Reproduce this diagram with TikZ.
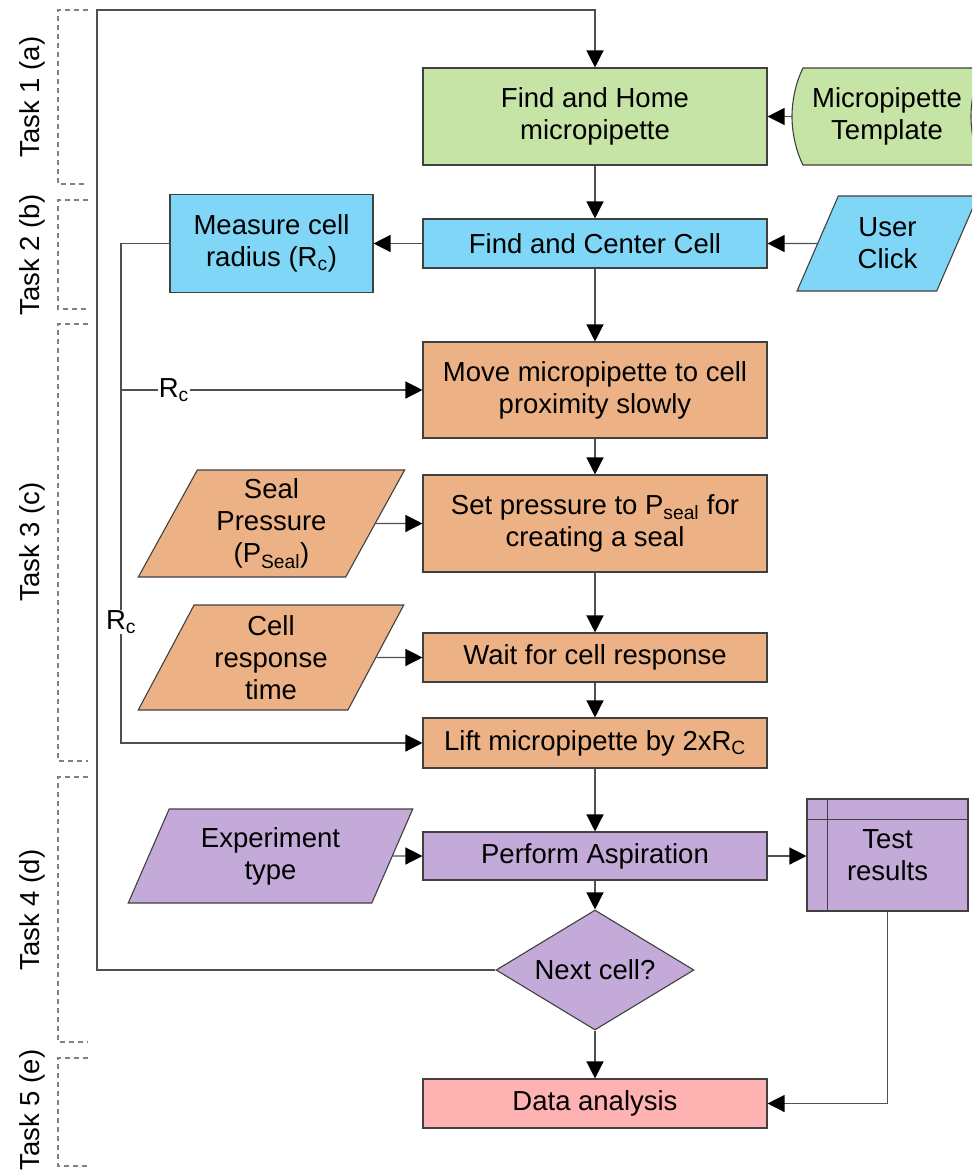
\documentclass[tikz,border=0pt]{standalone}
\usepackage{fontspec}
\setmainfont{Liberation Sans}
\usepackage{tikz}
\usetikzlibrary{shapes.geometric, arrows.meta, positioning, calc}
\definecolor{homegreen}{RGB}{198, 228, 165}
\definecolor{cellblue}{RGB}{128, 214, 247}
\definecolor{pipeorange}{RGB}{236, 178, 133}
\definecolor{aspurple}{RGB}{195, 170, 216}
\definecolor{datapink}{RGB}{255, 178, 178}
\definecolor{edgegray}{RGB}{64, 64, 64}
\definecolor{wiregray}{RGB}{80, 80, 80}
\definecolor{taskgray}{RGB}{128, 128, 128}
\tikzset{
  box/.style={draw=edgegray, line width=1.1pt, minimum width=344pt, inner sep=0pt, align=center},
  inbox/.style={draw=edgegray, line width=1.1pt, trapezium, trapezium left angle=64, trapezium right angle=116, trapezium stretches, inner sep=0pt, align=center},
  wire/.style={draw=wiregray, line width=1.3pt},
  arr/.style={wire, -{Triangle[length=17pt, width=17pt, color=black]}},
  taskline/.style={draw=taskgray, line width=1.1pt, dash pattern=on 5pt off 4pt},
}

\begin{document}
\begin{tikzpicture}[x=1pt, y=-1pt, font=\fontsize{27.5}{32}\selectfont]
  \useasboundingbox (0,0) rectangle (972,1175);
  \clip (0,0) rectangle (972,1175);

  % Task brackets
  \foreach \ya/\yb/\ym/\lbl [count=\i] in {10/184/97/Task 1 (a), 200/309/255/Task 2 (b), 324/761/542/Task 3 (c), 777/1042/910/Task 4 (d), 1058/1166/1110/Task 5 (e)} {
    \draw[taskline] (88,\ya) -- (58,\ya) -- (58,\yb) -- (88,\yb);
    \node[rotate=90] (task\i) at (32,\ym) {\lbl};
  }

  % Task 1: find the micropipette
  \node[box, fill=homegreen, minimum height=97pt] (home) at (595,116.5) {Find and Home\\micropipette};
  \draw[draw=edgegray, line width=1.1pt, fill=homegreen] (803,68) -- (982,68)
    .. controls (975,82) and (971,100) .. (971,116.5)
    .. controls (971,133) and (975,151) .. (982,165) -- (803,165)
    .. controls (796,151) and (792,133) .. (792,116.5)
    .. controls (792,100) and (796,82) .. (803,68) -- cycle;
  \node[minimum width=190pt, minimum height=97pt, inner sep=0pt, align=center] (tmpl) at (887,116.5) {Micropipette\\Template};
  \draw[arr] (tmpl) -- (home);

  % Task 2: find the cell
  \node[box, fill=cellblue, minimum height=49pt] (center) at (595,243.5) {Find and Center Cell};
  \node[box, fill=cellblue, minimum width=203pt, minimum height=98pt] (measure) at (271.5,243.5) {Measure cell\\radius (R\textsubscript{c})};
  \node[inbox, fill=cellblue, minimum width=181pt, minimum height=95pt] (click) at (887.5,243.5) {User\\Click};
  \draw[arr] (home) -- (center);
  \draw[arr] (click) -- (center);
  \draw[arr] (center) -- (measure);

  % Task 3: approach and seal
  \node[box, fill=pipeorange, minimum height=96pt] (move) at (595,390) {Move micropipette to cell\\proximity slowly};
  \node[box, fill=pipeorange, minimum height=97pt] (setp) at (595,523.5) {Set pressure to P\textsubscript{seal} for\\creating a seal};
  \node[inbox, fill=pipeorange, minimum width=267pt, minimum height=107pt] (seal) at (271.5,523.5) {Seal\\Pressure\\(P\textsubscript{Seal})};
  \node[box, fill=pipeorange, minimum height=49pt] (wait) at (595,657.5) {Wait for cell response};
  \node[inbox, fill=pipeorange, minimum width=266pt, minimum height=105pt] (resp) at (271,657.5) {Cell\\response\\time};
  \node[box, fill=pipeorange, minimum height=50pt] (lift) at (595,743) {Lift micropipette by 2xR\textsubscript{C}};
  \draw[arr] (center) -- (move);
  \draw[arr] (move) -- (setp);
  \draw[arr] (seal) -- (setp);
  \draw[arr] (setp) -- (wait);
  \draw[arr] (resp) -- (wait);
  \draw[arr] (wait) -- (lift);
  % radius fed forward
  \coordinate (rcturn) at (121,743);
  \coordinate (rctap) at (121,390);
  \draw[arr] (measure.west) -| (rcturn) -- (lift.west);
  \draw[arr] (rctap) -- node[pos=0.175, fill=white, inner sep=1pt] (rcup) {R\textsubscript{c}} (move.west);
  \node[fill=white, inner sep=1pt] (rcdown) at (121,622) {R\textsubscript{c}};

  % Task 4: aspiration
  \node[box, fill=aspurple, minimum height=48pt] (aspir) at (595,856) {Perform Aspiration};
  \node[inbox, fill=aspurple, minimum width=285pt, minimum height=94pt] (exper) at (270.5,856) {Experiment\\type};
  \node[box, fill=aspurple, minimum width=161pt, minimum height=112pt] (results) at (887.5,855) {Test\\results};
  \draw[draw=edgegray, line width=1.1pt] ([xshift=21pt]results.north west) -- ([xshift=21pt]results.south west);
  \draw[draw=edgegray, line width=1.1pt] ([yshift=-21pt]results.north west) -- ([yshift=-21pt]results.north east);
  \node[diamond, draw=edgegray, line width=1.1pt, fill=aspurple, aspect=1.65, inner sep=0pt, minimum width=198pt, minimum height=120pt] (next) at (595,970) {Next cell?};
  \draw[arr] (lift) -- (aspir);
  \draw[arr] (exper) -- (aspir);
  \draw[arr] (aspir.east) -- (aspir.east -| results.west);
  \draw[arr] (aspir) -- (next);
  \coordinate (loopcorner) at (97,10);
  \draw[arr] (next.west) -| (loopcorner) -| (home.north);

  % Task 5: analysis
  \node[box, fill=datapink, minimum height=49pt] (data) at (595,1103.5) {Data analysis};
  \draw[arr] (next) -- (data);
  \draw[arr] (results.south) |- (data.east);
\end{tikzpicture}
\end{document}
